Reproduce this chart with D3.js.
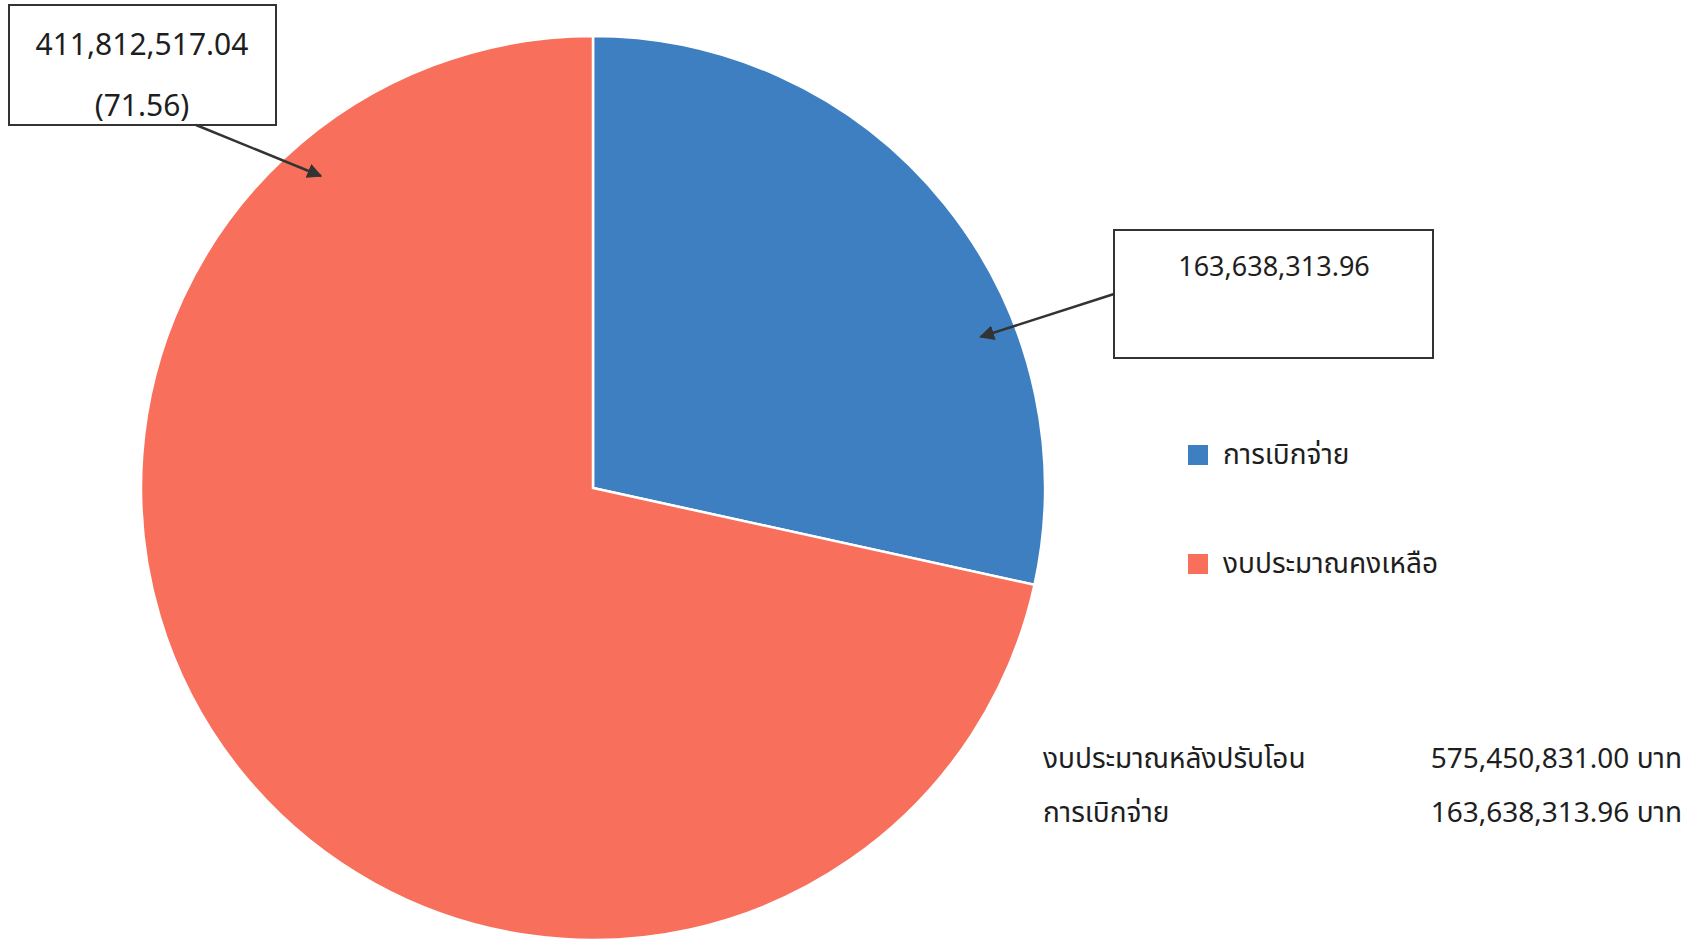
<!DOCTYPE html>
<html>
<head>
<meta charset="utf-8">
<script src="https://cdn.jsdelivr.net/npm/d3@7"></script>
<style>
  body { margin: 0; background: #fff; }
  text { font-family: Tahoma, "Noto Sans Thai", "Noto Sans", "DejaVu Sans", sans-serif; fill: #1e1e1e; }
</style>
</head>
<body>
<svg id="chart" width="1693" height="939"></svg>
<script>
// slice data
const categories = ['การเบิกจ่าย', 'งบประมาณคงเหลือ'];
const amounts = [163638313.96, 411812517.04];
const sliceColors = ['#3d7fc0', '#f8705c'];
const labelLines = [['163,638,313.96'], ['411,812,517.04', '(71.56)']];

// summary table
const summaryLabels = ['งบประมาณหลังปรับโอน', 'การเบิกจ่าย'];
const summaryValues = ['575,450,831.00 บาท', '163,638,313.96 บาท'];

const svg = d3.select('#chart');

svg.append('defs').append('marker')
    .attr('id', 'arrow')
    .attr('viewBox', '0 0 10 10')
    .attr('refX', 9).attr('refY', 5)
    .attr('markerWidth', 6).attr('markerHeight', 6)
    .attr('orient', 'auto')
  .append('path')
    .attr('d', 'M0,0L10,5L0,10Z')
    .attr('fill', '#333');

const cx = 593, cy = 488, radius = 452;

const pie = d3.pie().sort(null).value(d => d);
const arc = d3.arc().innerRadius(0).outerRadius(radius);
const arcs = pie(amounts);

const pieG = svg.append('g').attr('transform', `translate(${cx},${cy})`);
pieG.selectAll('path').data(arcs)
  .enter().append('path')
    .attr('d', arc)
    .attr('fill', (d, i) => sliceColors[i])
    .attr('stroke', '#fff')
    .attr('stroke-width', 2.5);

// callout boxes, arrow tip given as angle/radius inside the slice
const callouts = [
  { box: [1114, 230, 319, 128], textX: 1274, textY: [276], from: [1114, 294], tipAngle: 1.199, tipR: 416, size: 27 },
  { box: [9, 5, 267, 120], textX: 142, textY: [55, 116], from: [196, 125], tipAngle: 5.566, tipR: 414, size: 30 }
];

const callG = svg.append('g');
callouts.forEach((c, i) => {
  const p = d3.pointRadial(c.tipAngle, c.tipR);
  callG.append('rect')
    .attr('x', c.box[0]).attr('y', c.box[1])
    .attr('width', c.box[2]).attr('height', c.box[3])
    .attr('fill', '#fff').attr('stroke', '#333').attr('stroke-width', 2);
  labelLines[i].forEach((t, k) => {
    callG.append('text')
      .attr('x', c.textX).attr('y', c.textY[k])
      .attr('text-anchor', 'middle')
      .attr('font-size', c.size)
      .text(t);
  });
  callG.append('line')
    .attr('x1', c.from[0]).attr('y1', c.from[1])
    .attr('x2', cx + p[0]).attr('y2', cy + p[1])
    .attr('stroke', '#333').attr('stroke-width', 2.5)
    .attr('marker-end', 'url(#arrow)');
});

// legend
const legend = svg.append('g').attr('transform', 'translate(1188,445)');
const item = legend.selectAll('g').data(categories)
  .enter().append('g')
    .attr('transform', (d, i) => `translate(0,${i * 109})`);
item.append('rect')
  .attr('width', 20).attr('height', 20)
  .attr('fill', (d, i) => sliceColors[i]);
item.append('text')
  .attr('x', 35).attr('y', 19)
  .attr('font-size', 28)
  .text(d => d);

// summary
const summary = svg.append('g');
summary.selectAll('.lab').data(summaryLabels)
  .enter().append('text')
    .attr('class', 'lab')
    .attr('x', 1043).attr('y', (d, i) => 768 + i * 54)
    .attr('font-size', 28)
    .text(d => d);
summary.selectAll('.val').data(summaryValues)
  .enter().append('text')
    .attr('class', 'val')
    .attr('x', 1682).attr('y', (d, i) => 768 + i * 54)
    .attr('text-anchor', 'end')
    .attr('font-size', 28)
    .text(d => d);
</script>
</body>
</html>
